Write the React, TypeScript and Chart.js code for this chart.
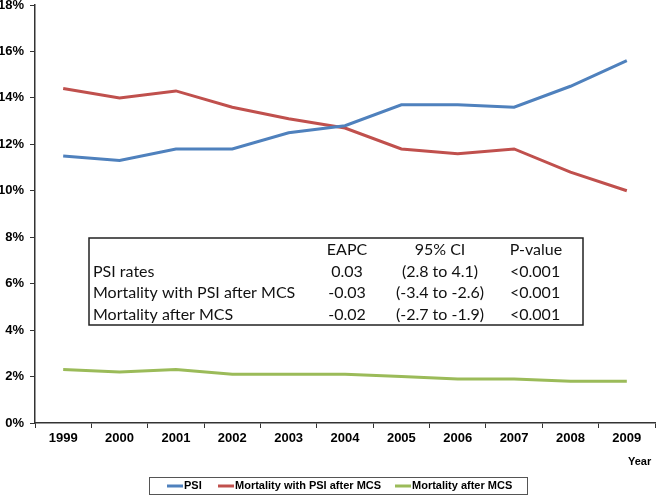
import React, { useEffect, useRef } from "react";
import { Chart, registerables } from "chart.js";

Chart.register(...registerables);

const years = ["1999", "2000", "2001", "2002", "2003", "2004", "2005", "2006", "2007", "2008", "2009"];
const psi = [11.5, 11.3, 11.8, 11.8, 12.5, 12.8, 13.7, 13.7, 13.6, 14.5, 15.6];
const mortPsi = [14.4, 14.0, 14.3, 13.6, 13.1, 12.7, 11.8, 11.6, 11.8, 10.8, 10.0];
const mortMcs = [2.3, 2.2, 2.3, 2.1, 2.1, 2.1, 2.0, 1.9, 1.9, 1.8, 1.8];
const seriesNames = ["PSI", "Mortality with PSI after MCS", "Mortality after MCS"];
const seriesColors = ["#4F81BD", "#C0504D", "#9BBB59"];

const tableHeader = ["", "EAPC", "95% CI", "P-value"];
const tableRows = [
  ["PSI rates", "0.03", "(2.8 to 4.1)", "<0.001"],
  ["Mortality with PSI after MCS", "-0.03", "(-3.4 to -2.6)", "<0.001"],
  ["Mortality after MCS", "-0.02", "(-2.7 to -1.9)", "<0.001"],
];

const overlayPlugin = {
  id: "overlay",
  afterDraw(chart: any) {
    const ctx = chart.ctx as CanvasRenderingContext2D;
    ctx.save();
    // Table
    const tl = 89, tt = 238, tr = 583, tb = 325;
    ctx.fillStyle = "#fff";
    ctx.fillRect(tl, tt, tr - tl, tb - tt);
    ctx.strokeStyle = "#222";
    ctx.lineWidth = 1.5;
    ctx.strokeRect(tl, tt, tr - tl, tb - tt);
    ctx.fillStyle = "#111";
    ctx.font = "16px Lato, 'Liberation Sans', sans-serif";
    ctx.textBaseline = "middle";
    const rowY = [250, 272, 293, 315];
    const colCenters = [0, 347, 440, 536];
    ctx.textAlign = "center";
    for (let c = 1; c < 4; c++) ctx.fillText(tableHeader[c], colCenters[c], rowY[0]);
    tableRows.forEach((row, r) => {
      const y = rowY[r + 1];
      ctx.textAlign = "left";
      ctx.fillText(row[0], 93, y);
      ctx.textAlign = "center";
      ctx.fillText(row[1], colCenters[1], y);
      ctx.fillText(row[2], colCenters[2], y);
      ctx.textAlign = "left";
      ctx.fillText(row[3], 510, y);
    });
    // Year label
    ctx.font = "bold 11px 'Liberation Sans', Arial, sans-serif";
    ctx.textAlign = "left";
    ctx.fillStyle = "#000";
    ctx.fillText("Year", 628, 462);
    // Legend
    const ll = 149, lt = 477, lr = 527, lb = 494;
    ctx.fillStyle = "#fff";
    ctx.fillRect(ll, lt, lr - ll, lb - lt);
    ctx.strokeStyle = "#555";
    ctx.lineWidth = 1;
    ctx.strokeRect(ll + 0.5, lt + 0.5, lr - ll, lb - lt);
    ctx.font = "bold 11px 'Liberation Sans', Arial, sans-serif";
    const ly = (lt + lb) / 2 + 0.5;
    const starts = [167, 218, 395];
    chart.data.datasets.forEach((ds: any, i: number) => {
      const x = starts[i];
      ctx.strokeStyle = ds.borderColor;
      ctx.lineWidth = 3;
      ctx.beginPath();
      ctx.moveTo(x, ly);
      ctx.lineTo(x + 16, ly);
      ctx.stroke();
      ctx.fillStyle = "#000";
      ctx.textAlign = "left";
      ctx.fillText(ds.label, x + 17, ly);
    });
    ctx.restore();
  },
};

export default function App() {
  const ref = useRef<HTMLCanvasElement | null>(null);
  useEffect(() => {
    if (!ref.current) return;
    const chart = new Chart(ref.current, {
      type: "line",
      data: {
        labels: years,
        datasets: [psi, mortPsi, mortMcs].map((d, i) => ({
          label: seriesNames[i],
          data: d,
          borderColor: seriesColors[i],
          backgroundColor: seriesColors[i],
          borderWidth: 3,
          pointRadius: 0,
          tension: 0,
          fill: false,
        })),
      },
      options: {
        animation: false,
        responsive: false,
        maintainAspectRatio: false,
        layout: { padding: { top: 5, right: 1, left: 0, bottom: 0 } },
        plugins: { legend: { display: false }, tooltip: { enabled: false } },
        scales: {
          x: {
            offset: true,
            grid: { display: true, drawOnChartArea: false, offset: true, tickLength: 5, color: "#333" },
            border: { display: true, color: "#333", width: 1.5 },
            ticks: { color: "#000", font: { family: "'Liberation Sans', Arial, sans-serif", size: 13, weight: "bold" }, padding: 3, maxRotation: 0 },
            afterFit(scale: any) { scale.height = 72; scale.paddingLeft = 0; scale.paddingRight = 0; },
          },
          y: {
            min: 0,
            max: 18,
            grid: { display: true, drawOnChartArea: false, tickLength: 5, color: "#333" },
            border: { display: true, color: "#333", width: 1.5 },
            ticks: {
              stepSize: 2,
              color: "#000",
              padding: 6,
              font: { family: "'Liberation Sans', Arial, sans-serif", size: 13, weight: "bold" },
              callback: (v: any) => v + "%",
            },
            afterFit(scale: any) { scale.width = 35; scale.paddingTop = 0; scale.paddingBottom = 0; },
          },
        },
      },
      plugins: [overlayPlugin],
    });
    return () => chart.destroy();
  }, []);
  return (
    <div style={{ position: "fixed", left: 0, top: 0, width: 656, height: 495, background: "#fff" }}>
      <canvas ref={ref} width={656} height={495} style={{ width: 656, height: 495 }} />
    </div>
  );
}
